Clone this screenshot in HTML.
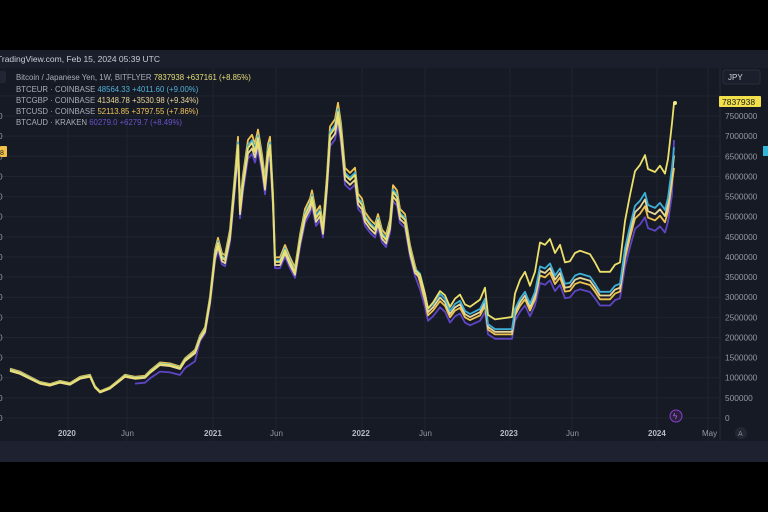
<!DOCTYPE html>
<html><head><meta charset="utf-8"><style>
html,body{margin:0;padding:0;background:#000;}
body{width:768px;height:512px;overflow:hidden;position:relative;font-family:"Liberation Sans",sans-serif;}
</style></head><body>
<svg id="s" width="768" height="512" xmlns="http://www.w3.org/2000/svg" style="position:absolute;left:0;top:0">
<rect x="0" y="0" width="768" height="512" fill="#000"/>
<rect x="0" y="50" width="768" height="412" fill="#161a25"/>
<rect x="0" y="50" width="768" height="18" fill="#1b1f2b"/>
<rect x="0" y="441" width="768" height="21" fill="#1e2230"/>
<line x1="720" y1="68" x2="720" y2="441" stroke="#262a36"/>
<g id="grid" stroke="#20242f" stroke-width="1"></g>
<g id="lines" fill="none" stroke-width="1.8" stroke-linejoin="round"></g>
<text x="-3" y="62" fill="#c8cbd3" font-size="8.5">TradingView.com, Feb 15, 2024 05:39 UTC</text>
<rect x="-4" y="71" width="10" height="12" rx="2" fill="#222634"/>
<g font-size="7.8">
<text x="16" y="80" fill="#a9adb8">Bitcoin / Japanese Yen, 1W, BITFLYER <tspan fill="#e6de7a">7837938  +637161 (+8.85%)</tspan></text>
<text x="16" y="92" fill="#a9adb8">BTCEUR · COINBASE <tspan fill="#4fb0d6">48564.33  +4011.60 (+9.00%)</tspan></text>
<text x="16" y="103" fill="#a9adb8">BTCGBP · COINBASE <tspan fill="#e8d59a">41348.78  +3530.98 (+9.34%)</tspan></text>
<text x="16" y="114" fill="#a9adb8">BTCUSD · COINBASE <tspan fill="#f2c45a">52113.85  +3797.55 (+7.86%)</tspan></text>
<text x="16" y="125" fill="#a9adb8">BTCAUD · KRAKEN <tspan fill="#6b52cc">60279.0  +6279.7 (+8.49%)</tspan></text>
</g>
<rect x="723" y="70" width="37" height="14" rx="2" fill="#1b1f2b" stroke="#2a2e3a"/>
<text x="728" y="80" fill="#d1d4dc" font-size="8">JPY</text>
<g id="yax" fill="#9598a1" font-size="8.3"></g>
<rect x="719" y="96" width="42" height="11" rx="1" fill="#f2e14b"/>
<text x="722" y="105" fill="#1a1a1a" font-size="8.5">7837938</text>
<rect x="763" y="146" width="8" height="10" fill="#2fb6d8"/>
<rect x="0" y="146" width="7" height="11" rx="1" fill="#f2c14b"/>
<text x="0" y="155" fill="#1a1a1a" font-size="7">8</text>
<g fill="#9598a1" font-size="8">
<text x="58" y="436" font-weight="bold" fill="#b8bbc4">2020</text>
<text x="121" y="436">Jun</text>
<text x="204" y="436" font-weight="bold" fill="#b8bbc4">2021</text>
<text x="270" y="436">Jun</text>
<text x="352" y="436" font-weight="bold" fill="#b8bbc4">2022</text>
<text x="419" y="436">Jun</text>
<text x="500" y="436" font-weight="bold" fill="#b8bbc4">2023</text>
<text x="566" y="436">Jun</text>
<text x="648" y="436" font-weight="bold" fill="#b8bbc4">2024</text>
<text x="702" y="436">May</text>
</g>
<circle cx="741" cy="433" r="6" fill="#232733"/>
<text x="738" y="436" fill="#8a8d96" font-size="7">A</text>
<circle cx="676" cy="416" r="6" fill="#2a1f3d" stroke="#8a3fd0"/>
<text x="673" y="419" fill="#b070f0" font-size="8">ϟ</text>
<circle cx="675" cy="103" r="2" fill="#f3e88a"/>
</svg>
<script>
var NS="http://www.w3.org/2000/svg";
function el(p,t,a,txt){var e=document.createElementNS(NS,t);for(var k in a)e.setAttribute(k,a[k]);if(txt!==undefined)e.textContent=txt;p.appendChild(e);return e;}
var Y=function(v){return 418-v/500000*20.13;};
var g=document.getElementById('grid'),ya=document.getElementById('yax');
for(var i=0;i<=16;i++){var y=Y(i*500000);el(g,'line',{x1:0,x2:720,y1:y,y2:y});
 if(i<16){el(ya,'text',{x:725,y:y+3},String(i*500000));el(ya,'text',{x:-2,y:y+3},'0');}}
[68,127,213,276,362,425,510,572,657,708].forEach(function(x){el(g,'line',{x1:x,x2:x,y1:68,y2:441});});
var b=[[10,370],[20,373],[30,378],[40,383],[50,385],[60,382],[70,384],[80,378],[90,376],[95,387],[100,392],[110,388],[120,380],[125,376],[135,378],[145,377],[150,372],[160,364],[170,365],[180,368],[185,360],[195,352],[200,338],[205,330],[210,300],[215,255],[218,243],[222,258],[225,260],[230,235],[235,180],[238,145],[240,210],[243,182],[248,148],[252,143],[255,152],[258,138],[262,162],[265,185],[268,152],[270,145],[273,200],[275,262],[280,262],[285,250],[290,262],[295,272],[300,240],[305,215],[310,205],[312,197],[316,218],[320,212],[323,230],[327,182],[330,135],[335,128],[338,112],[341,132],[345,175],[350,180],[355,175],[358,200],[362,205],[365,218],[370,225],[375,230],[378,220],[382,235],[386,240],[390,225],[393,192],[397,197],[400,215],[405,220],[410,250],[415,270],[420,275],[425,295],[428,310],[433,305],[440,295],[445,300],[450,312],[455,305],[460,302],[465,312],[470,315],[480,310],[485,300],[488,325],[495,330],[505,330],[512,330],[515,310],[520,300],[525,293],[530,305],[535,293],[540,268],[545,270],[550,265],[555,277],[560,270],[565,285],[570,284],[575,277],[580,275],[590,278],[595,285],[600,293],[610,293],[615,287],[620,285],[625,250],[630,228],[635,208],[640,203],[645,195],[648,207],[655,210],[660,205],[665,212],[668,200],[672,170],[674,150]];
function mult(x,s){
 if(s=='jpy'){if(x<420)return 1.0; if(x<520)return 1.0+(x-420)/100*0.16; if(x<620) return 1.17; return 1.17+(x-620)/55*0.02;}
 if(s=='aud'){if(x<200)return 0.86; if(x<420)return 0.96; return 0.9;}
 if(s=='usd'){return x<420?1.03:0.95;}
 if(s=='gbp'){return 0.98;}
 return 1.01;
}
var L=document.getElementById('lines');
[['aud','#5e45c4',130],['usd','#f0c350',0],['gbp','#e6d79a',0],['eur','#3fb0d8',0],['jpy','#ece06a',0]].forEach(function(s){
 var pts=[];b.forEach(function(p){if(p[0]<s[2])return;var v=(418-p[1]);var m=mult(p[0],s[0]);var y=418-v*m;
  if(s[0]=='jpy'&&p[0]==674)y=103; if(s[0]=='aud'&&p[0]==674)y=140; if(s[0]=='usd'&&p[0]==674)y=168;
  pts.push(p[0]+','+y.toFixed(1));});
 el(L,'polyline',{points:pts.join(' '),stroke:s[1]});
});
</script>
</body></html>
